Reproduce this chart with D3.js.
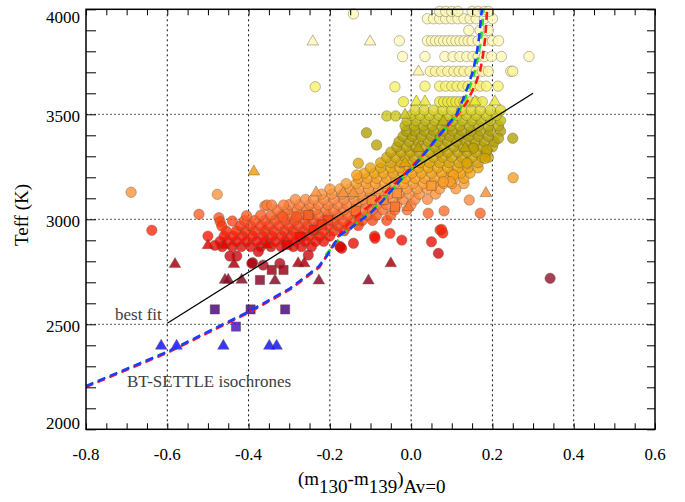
<!DOCTYPE html>
<html>
<head>
<meta charset="utf-8">
<script src="https://cdn.jsdelivr.net/npm/d3@7"></script>
<style>
  body { margin: 0; background: #fff; }
  text { font-family: "Liberation Serif", "Times New Roman", serif; }
</style>
</head>
<body>
<div id="chart"></div>
<script>
// ---- data: [colour index m130-m139, Teff] ----

// dense band of circles, one row of x values per Teff level
var circleRows = [
  [2870, [-0.465,-0.44,-0.418,-0.395,-0.37,-0.345,-0.32,-0.29,-0.27,-0.245,-0.175]],
  [2895, [-0.47,-0.452,-0.43,-0.405,-0.38,-0.358,-0.335,-0.31,-0.285,-0.26,-0.235,-0.215]],
  [2920, [-0.5,-0.46,-0.438,-0.415,-0.39,-0.365,-0.342,-0.318,-0.295,-0.27,-0.25,-0.225,-0.2,-0.09]],
  [2945, [-0.455,-0.43,-0.408,-0.385,-0.36,-0.338,-0.312,-0.29,-0.265,-0.24,-0.215,-0.19,-0.165]],
  [2970, [-0.42,-0.395,-0.37,-0.35,-0.325,-0.3,-0.278,-0.255,-0.23,-0.205,-0.18,-0.155,-0.13]],
  [2995, [-0.41,-0.385,-0.36,-0.335,-0.31,-0.287,-0.262,-0.24,-0.215,-0.19,-0.168,-0.145,-0.12,-0.095,-0.06]],
  [3020, [-0.37,-0.345,-0.32,-0.298,-0.275,-0.25,-0.228,-0.205,-0.18,-0.155,-0.132,-0.108,-0.085,-0.05]],
  [3045, [-0.33,-0.305,-0.28,-0.258,-0.235,-0.21,-0.19,-0.165,-0.14,-0.118,-0.095,-0.07,-0.04,-0.01]],
  [3070, [-0.3,-0.275,-0.25,-0.228,-0.205,-0.18,-0.158,-0.135,-0.11,-0.085,-0.06,-0.035,0.0]],
  [3095, [-0.285,-0.26,-0.24,-0.215,-0.19,-0.165,-0.14,-0.118,-0.095,-0.07,-0.045,-0.02,0.01,0.04]],
  [3120, [-0.22,-0.195,-0.17,-0.148,-0.125,-0.1,-0.078,-0.055,-0.03,-0.005,0.02,0.06]],
  [3145, [-0.2,-0.175,-0.15,-0.128,-0.105,-0.08,-0.058,-0.033,-0.01,0.015,0.04,0.07,0.11]],
  [3170, [-0.16,-0.135,-0.11,-0.088,-0.065,-0.04,-0.018,0.005,0.03,0.055,0.08,0.1,0.13]],
  [3195, [-0.13,-0.108,-0.085,-0.06,-0.038,-0.015,0.01,0.033,0.058,0.082,0.105,0.13]],
  [3220, [-0.115,-0.09,-0.068,-0.045,-0.02,0.002,0.025,0.05,0.075,0.1,0.122,0.145]],
  [3245, [-0.1,-0.075,-0.05,-0.028,-0.005,0.018,0.042,0.065,0.09,0.115,0.14,0.165]],
  [3270, [-0.075,-0.05,-0.025,0.0,0.022,0.045,0.07,0.093,0.118,0.14,0.165]],
  [3295, [-0.06,-0.038,-0.015,0.008,0.03,0.055,0.078,0.1,0.125,0.15,0.175,0.19]],
  [3320, [-0.05,-0.025,-0.002,0.02,0.045,0.068,0.09,0.115,0.138,0.16,0.185]],
  [3345, [-0.035,-0.012,0.012,0.035,0.058,0.08,0.105,0.128,0.152,0.175,0.2]],
  [3370, [-0.03,-0.005,0.018,0.042,0.065,0.09,0.112,0.135,0.158,0.18,0.205]],
  [3395, [-0.02,0.003,0.025,0.05,0.072,0.095,0.118,0.142,0.165,0.19]],
  [3420, [-0.012,0.01,0.033,0.056,0.08,0.102,0.125,0.148,0.17,0.195,0.22]],
  [3445, [-0.015,0.008,0.03,0.052,0.075,0.098,0.12,0.143,0.166,0.19,0.215]],
  [3470, [-0.01,0.012,0.035,0.058,0.08,0.103,0.126,0.15,0.172,0.195,0.22]],
  [3495, [0.0,0.022,0.045,0.068,0.09,0.113,0.136,0.16,0.185,0.21]],
  [3520, [0.01,0.032,0.055,0.078,0.1,0.125,0.148,0.17,0.195,0.22]],
  // quantised hot rows at the top
  [3560, [0.07,0.08,0.09,0.1,0.11,0.12,0.13,0.145,0.16,0.175]],
  [3634, [0.034,0.07,0.085,0.1,0.113,0.127,0.14,0.155,0.17,0.185,0.214]],
  [3705, [0.047,0.06,0.075,0.09,0.105,0.118,0.13,0.145,0.16,0.175,0.19,0.245,0.25]],
  [3775, [-0.021,0.034,0.083,0.103,0.12,0.137,0.152,0.165,0.18,0.198,0.222,0.29]],
  [3850, [-0.029,0.04,0.05,0.06,0.07,0.08,0.09,0.1,0.11,0.12,0.13,0.14,0.15,0.165,0.18,0.2,0.215]],
  [3900, [0.142,0.17,0.19]],
  [3955, [0.04,0.055,0.07,0.085,0.1,0.115,0.13,0.145,0.16,0.18,0.2]],
  [3990, [0.07,0.085,0.1,0.115,0.15,0.165,0.18,0.19]]
];

// scattered circles
var circleExtra = [
  [-0.689,3129],[-0.638,2948],[-0.522,3024],[-0.477,3119],[-0.473,3008],[-0.47,2989],
  [-0.466,2968],[-0.44,2992],[-0.405,3017],[-0.483,2876],[-0.446,2825],[-0.429,2825],
  [-0.376,2846],[-0.39,2793],[-0.364,2782],[-0.323,2790],[-0.392,2790],[-0.36,3063],
  [-0.355,3068],[-0.343,3068],[-0.314,3068],[-0.316,3012],[-0.282,3012],[-0.253,2830],
  [-0.175,2870],[-0.171,2862],[-0.142,2886],[-0.089,2910],[-0.052,2933],[-0.023,2901],
  [0.067,2838],[0.342,2719],[0.05,2893],[0.071,2949],[0.078,2935],[0.042,3029],
  [0.081,3040],[0.075,2952],[0.17,3029],[0.143,3092],[0.251,3198],[0.25,3386],
  [0.215,3386],[0.186,3330],[0.153,3338],[0.182,3290],[0.137,3267],[0.104,3211],
  [0.096,3179],[0.079,3179],[-0.11,3412],[-0.085,3354],[-0.13,3267],[-0.134,3211],
  [-0.06,3492],[-0.038,3492],[-0.019,3560],[-0.04,3631],[-0.236,3631],[-0.142,3978]
];

var trianglePts = [
  [-0.581,2786],[-0.458,2711],[-0.45,2711],[-0.417,2711],[-0.335,2708],[-0.227,2708],
  [-0.105,2708],[-0.05,2790],[-0.278,2790],[-0.263,2790],[-0.436,2786],
  [-0.5,2876],[-0.46,2876],[-0.355,2878],
  [-0.615,2397],[-0.577,2397],[-0.462,2397],[-0.349,2397],[-0.331,2397],
  [-0.387,3227],[-0.234,3127],[0.184,3124],[-0.167,3124],[-0.142,3124],[-0.13,2989],[-0.007,3057],
  [-0.015,3267],[0.018,3338],[0.133,3338],[0.079,3465],
  [-0.015,3497],[0.018,3703],[0.013,3560],[0.034,3560],[0.133,3560],[0.157,3560],[0.206,3560],
  [-0.242,3846],[-0.101,3846]
];

var squarePts = [
  [-0.483,2571],[-0.395,2571],[-0.31,2571],[-0.431,2489],
  [-0.372,2711],[-0.343,2759],[-0.314,2759],
  [-0.253,3020],[-0.204,2995],[-0.273,2917],[-0.306,2878],[-0.24,2950],[-0.22,2975],
  [-0.136,3040],[-0.097,3092],[-0.068,3092],[-0.035,3124],[-0.04,3060],[0.05,3160]
];

// BT-SETTLE isochrones
var isoRed = [
  [-0.8,2206],[-0.6,2369],[-0.4,2560],[-0.298,2671],[-0.228,2774],[-0.206,2840],[-0.175,2941],
  [-0.15,2997],[-0.093,3084],[-0.06,3140],[-0.03,3195],[0.0,3255],[0.03,3315],[0.06,3385],
  [0.085,3440],[0.112,3500],[0.135,3560],[0.155,3640],[0.168,3711],[0.175,3786],
  [0.18,3862],[0.183,3941],[0.185,4000]
];
var isoGreen = [
  [-0.21,2830],[-0.19,2878],[-0.165,2935],[-0.1,3035],[-0.07,3090],[-0.042,3150],[-0.017,3205],
  [0.007,3252],[0.032,3308],[0.061,3378],[0.085,3435],[0.115,3502],[0.131,3568],[0.146,3640],
  [0.158,3711],[0.166,3786],[0.172,3862],[0.176,3941],[0.178,4000]
];
var isoBlue = [
  [-0.8,2206],[-0.6,2369],[-0.4,2560],[-0.298,2671],[-0.228,2774],[-0.206,2830],[-0.175,2925],
  [-0.15,2957],[-0.101,3029],[-0.072,3084],[-0.044,3148],[-0.019,3203],[0.005,3250],[0.03,3306],
  [0.059,3377],[0.083,3433],[0.112,3500],[0.127,3568],[0.141,3640],[0.153,3711],[0.161,3786],
  [0.167,3862],[0.171,3941],[0.174,4000]
];

var bestFit = [[-0.6,2505],[0.3,3600]];

var xTickLabels = [-0.8,-0.6,-0.4,-0.2,0.0,0.2,0.4,0.6];
var yTickLabels = [2000,2500,3000,3500,4000];
var xGrid = [-0.6,-0.4,-0.2,0.0,0.2,0.4];
var yGrid = [2500,3000,3500];

// ---- setup ----
const width = 685, height = 502;
const margins = { top: 9.3, right: 30, bottom: 72.7, left: 86 };
const graphWidth = width - margins.left - margins.right;
const graphHeight = height - margins.top - margins.bottom;

const svg = d3.select("#chart").append("svg")
  .attr("width", width)
  .attr("height", height);

const x = d3.scaleLinear().domain([-0.8, 0.6]).range([margins.left, margins.left + graphWidth]);
const y = d3.scaleLinear().domain([2000, 4000]).range([margins.top + graphHeight, margins.top]);

// colour by Teff
const teffColor = d3.scaleLinear()
  .domain([2400, 2490, 2570, 2710, 2790, 2860, 2920, 2980, 3040, 3100, 3160, 3220, 3280, 3340, 3420, 3480, 3540, 3600, 3680, 3760])
  .range(["#1414ff", "#5018c0", "#4b0a82", "#8c0a2a", "#b00010", "#e00000", "#ff1000", "#ff3a10", "#ff6a28", "#ff8a40",
          "#ff9a30", "#f5a010", "#d8a400", "#bca200", "#ae9e00", "#c4bc10", "#e6e230", "#f4f050", "#fdf490", "#fff8b8"])
  .clamp(true);

svg.append("defs").append("clipPath").attr("id", "plotclip")
  .append("rect")
  .attr("x", margins.left).attr("y", margins.top)
  .attr("width", graphWidth).attr("height", graphHeight);

// grid lines
svg.append("g").selectAll("line").data(xGrid).enter().append("line")
  .attr("x1", d => x(d)).attr("x2", d => x(d))
  .attr("y1", margins.top).attr("y2", margins.top + graphHeight)
  .attr("stroke", "#111").attr("stroke-width", 1).attr("stroke-dasharray", "2,3");

svg.append("g").selectAll("line").data(yGrid).enter().append("line")
  .attr("x1", margins.left).attr("x2", margins.left + graphWidth)
  .attr("y1", d => y(d)).attr("y2", d => y(d))
  .attr("stroke", "#333").attr("stroke-width", 0.8).attr("stroke-dasharray", "2,2");

// points
var circlePts = [];
circleRows.forEach(function(r) {
  r[1].forEach(function(v) { circlePts.push([v, r[0]]); });
});
circlePts = circlePts.concat(circleExtra);

const pts = svg.append("g");

pts.selectAll("circle").data(circlePts).enter().append("circle")
  .attr("cx", d => x(d[0]))
  .attr("cy", d => y(d[1]))
  .attr("r", 5.2)
  .attr("fill", d => teffColor(d[1]))
  .attr("fill-opacity", 0.78)
  .attr("stroke", "#5e5a40")
  .attr("stroke-opacity", 0.5)
  .attr("stroke-width", 0.8);

pts.selectAll(".sq").data(squarePts).enter().append("path")
  .attr("class", "sq")
  .attr("d", d3.symbol(d3.symbolSquare, 85))
  .attr("transform", d => `translate(${x(d[0])},${y(d[1])})`)
  .attr("fill", d => teffColor(d[1]))
  .attr("fill-opacity", 0.85)
  .attr("stroke", "#5a4040")
  .attr("stroke-opacity", 0.55)
  .attr("stroke-width", 0.8);

pts.selectAll(".tri").data(trianglePts).enter().append("path")
  .attr("class", "tri")
  .attr("d", d3.symbol(d3.symbolTriangle, 58))
  .attr("transform", d => `translate(${x(d[0])},${y(d[1])})`)
  .attr("fill", d => teffColor(d[1]))
  .attr("fill-opacity", 0.85)
  .attr("stroke", "#6a5a40")
  .attr("stroke-opacity", 0.55)
  .attr("stroke-width", 0.8);

// best fit + isochrones
const line = d3.line().x(d => x(d[0])).y(d => y(d[1]));
const lines = svg.append("g").attr("clip-path", "url(#plotclip)");

lines.append("path").datum(bestFit)
  .attr("d", line).attr("fill", "none")
  .attr("stroke", "#000").attr("stroke-width", 1.3);

lines.append("path").datum(isoRed)
  .attr("d", line).attr("fill", "none")
  .attr("transform", "translate(0.8,0.6)")
  .attr("stroke", "#ff1a1a").attr("stroke-width", 2.6)
  .attr("stroke-dasharray", "8,5").attr("stroke-dashoffset", 1.5);

lines.append("path").datum(isoGreen)
  .attr("d", line).attr("fill", "none")
  .attr("stroke", "#1ee01e").attr("stroke-width", 2.6)
  .attr("stroke-dasharray", "7,6");

lines.append("path").datum(isoBlue)
  .attr("d", line).attr("fill", "none")
  .attr("stroke", "#1a3cff").attr("stroke-width", 2.6)
  .attr("stroke-dasharray", "8,5");

// axes: inward ticks on all four sides
const xMinor = d3.range(-0.8, 0.6001, 0.05);
const yMinor = d3.range(2000, 4001, 100);

function cleanAxis(g) {
  g.select(".domain").remove();
  g.selectAll(".tick text").remove();
  g.selectAll(".tick line").attr("stroke", "#000").attr("stroke-width", 1);
}

svg.append("g").attr("transform", `translate(0,${y(2000)})`)
  .call(d3.axisBottom(x).tickValues(xMinor).tickSize(-6)).call(cleanAxis);
svg.append("g").attr("transform", `translate(0,${y(4000)})`)
  .call(d3.axisTop(x).tickValues(xMinor).tickSize(-6)).call(cleanAxis);
svg.append("g").attr("transform", `translate(${x(-0.8)},0)`)
  .call(d3.axisLeft(y).tickValues(yMinor).tickSize(-10)).call(cleanAxis);
svg.append("g").attr("transform", `translate(${x(0.6)},0)`)
  .call(d3.axisRight(y).tickValues(yMinor).tickSize(-8)).call(cleanAxis);

svg.append("rect")
  .attr("x", margins.left).attr("y", margins.top)
  .attr("width", graphWidth).attr("height", graphHeight)
  .attr("fill", "none").attr("stroke", "#000").attr("stroke-width", 1.5);

// tick labels
svg.append("g").selectAll("text").data(xTickLabels).enter().append("text")
  .attr("x", d => x(d))
  .attr("y", y(2000) + 31)
  .attr("text-anchor", "middle")
  .attr("font-size", "17px")
  .attr("fill", "#000")
  .text(d => d3.format(".1f")(d).replace("−", "-"));

svg.append("g").selectAll("text").data(yTickLabels).enter().append("text")
  .attr("x", x(-0.8) - 6)
  .attr("y", d => y(d) + (d === 4000 ? 14 : d === 2000 ? 0 : 8))
  .attr("text-anchor", "end")
  .attr("font-size", "17px")
  .attr("fill", "#000")
  .text(d => d);

// axis titles
const xt = svg.append("text")
  .attr("x", 298).attr("y", 485)
  .attr("font-size", "19px").attr("fill", "#000");
xt.append("tspan").text("(m");
xt.append("tspan").attr("dy", 8).text("130");
xt.append("tspan").attr("dy", -8).text("-m");
xt.append("tspan").attr("dy", 8).text("139");
xt.append("tspan").attr("dy", -8).text(")");
xt.append("tspan").attr("dy", 8).text("Av=0");

svg.append("text")
  .attr("transform", "translate(28,215) rotate(-90)")
  .attr("text-anchor", "middle")
  .attr("font-size", "19px").attr("fill", "#000")
  .text("Teff (K)");

// annotations
svg.append("text")
  .attr("x", 115).attr("y", 320)
  .attr("font-size", "17px").attr("fill", "#404040")
  .text("best fit");

svg.append("text")
  .attr("x", 127).attr("y", 387)
  .attr("font-size", "17px").attr("fill", "#404040")
  .text("BT-SETTLE isochrones");
</script>
</body>
</html>
